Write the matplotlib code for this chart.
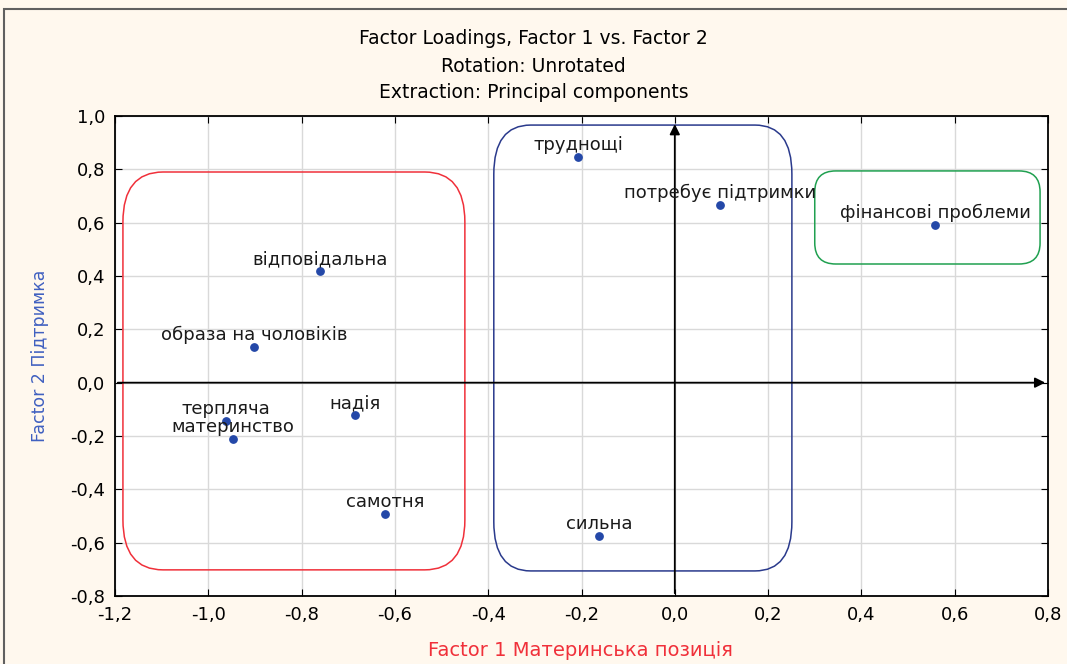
"""
    Factor loadings plot, Factor 1 vs Factor 2
"""
import matplotlib.pyplot as plt
from matplotlib.patches import FancyBboxPatch, Rectangle
from matplotlib.ticker import FuncFormatter

# loadings
labels = ["трудноші", "потребує підтримки", "фінансові проблеми", "відповідальна",
          "образа на чоловіків", "надія", "терпляча", "материнство", "самотня", "сильна"]
labels[0] = "трудноші".replace("ші", "щі")
factor1 = [-0.207, 0.097, 0.558, -0.761, -0.902, -0.686, -0.962, -0.947, -0.621, -0.163]
factor2 = [0.846, 0.666, 0.591, 0.419, 0.134, -0.121, -0.144, -0.211, -0.492, -0.575]

# group outlines: (x0, y0, x1, y1), colour, corner radius (x units), corner y/x stretch
groups_box = [(-1.183, -0.702, -0.450, 0.790), (-0.388, -0.706, 0.251, 0.966), (0.300, 0.445, 0.783, 0.794)]
groups_color = ["#f0303a", "#2a3a8c", "#20a050"]
groups_round = [0.086, 0.079, 0.045]
groups_aspect = [2.18, 2.33, 1.75]

plt.rcParams["font.family"] = ["DejaVu Sans"]

fig = plt.figure(figsize=(10.67, 6.64), dpi=100)
fig.patch.set_facecolor("#fff8ee")
fig.patches.append(Rectangle((4 / 1067, -0.1), 1.2, (664 - 9) / 664 + 0.1, transform=fig.transFigure,
                             fill=False, edgecolor="#606060", lw=1.5))

ax = fig.add_axes([115 / 1067, 1 - 596 / 664, (1048 - 115) / 1067, (596 - 116) / 664])
ax.set_facecolor("white")
ax.set_xlim(-1.2, 0.8)
ax.set_ylim(-0.8, 1.0)
ax.set_xticks([-1.2, -1.0, -0.8, -0.6, -0.4, -0.2, 0.0, 0.2, 0.4, 0.6, 0.8])
ax.set_yticks([-0.8, -0.6, -0.4, -0.2, 0.0, 0.2, 0.4, 0.6, 0.8, 1.0])
comma = FuncFormatter(lambda v, p: f"{v:.1f}".replace(".", ",").replace("-0,0", "0,0"))
ax.xaxis.set_major_formatter(comma)
ax.yaxis.set_major_formatter(comma)
ax.tick_params(direction="in", top=True, right=True, length=5, labelsize=13, pad=7)
ax.grid(True, color="#d9d9d9", lw=1)
ax.set_axisbelow(True)
for s in ax.spines.values():
    s.set_color("black")
    s.set_linewidth(1.3)

for (x0, y0, x1, y1), c, r, a in zip(groups_box, groups_color, groups_round, groups_aspect):
    ax.add_patch(FancyBboxPatch((x0, y0), x1 - x0, y1 - y0,
                                boxstyle=f"round,pad=0,rounding_size={r}",
                                mutation_aspect=a, fill=False, edgecolor=c, lw=1.1, zorder=3))

# axes through origin
ax.annotate("", xy=(0.8, 0.0), xytext=(-1.2, 0.0),
            arrowprops=dict(arrowstyle="-|>", color="black", lw=1.3, mutation_scale=15), zorder=4)
ax.annotate("", xy=(0.0, 0.98), xytext=(0.0, -0.8),
            arrowprops=dict(arrowstyle="-|>", color="black", lw=1.3, mutation_scale=15), zorder=4)

ax.scatter(factor1, factor2, s=28, color="#2448a8", zorder=5)
for x, y, t in zip(factor1, factor2, labels):
    ax.annotate(t, (x, y), xytext=(0, 8.5), textcoords="offset points", ha="center", va="center",
                fontsize=13, color="#1a1a1a", zorder=6)

fig.text(0.5, 1 - 38 / 664, "Factor Loadings, Factor 1 vs. Factor 2", ha="center", va="center", fontsize=13.5)
fig.text(0.5, 1 - 66 / 664, "Rotation: Unrotated", ha="center", va="center", fontsize=13.5)
fig.text(0.5, 1 - 93 / 664, "Extraction: Principal components", ha="center", va="center", fontsize=13.5)
fig.text(580 / 1067, 1 - 650 / 664, "Factor 1 Материнська позиція", ha="center", va="center",
         fontsize=14, color="#f0303a")
fig.text(40 / 1067, 1 - 356 / 664, "Factor 2 Підтримка", ha="center", va="center", rotation=90,
         fontsize=12.5, color="#4060c0")

fig.savefig("out.png", dpi=100, facecolor=fig.get_facecolor())
